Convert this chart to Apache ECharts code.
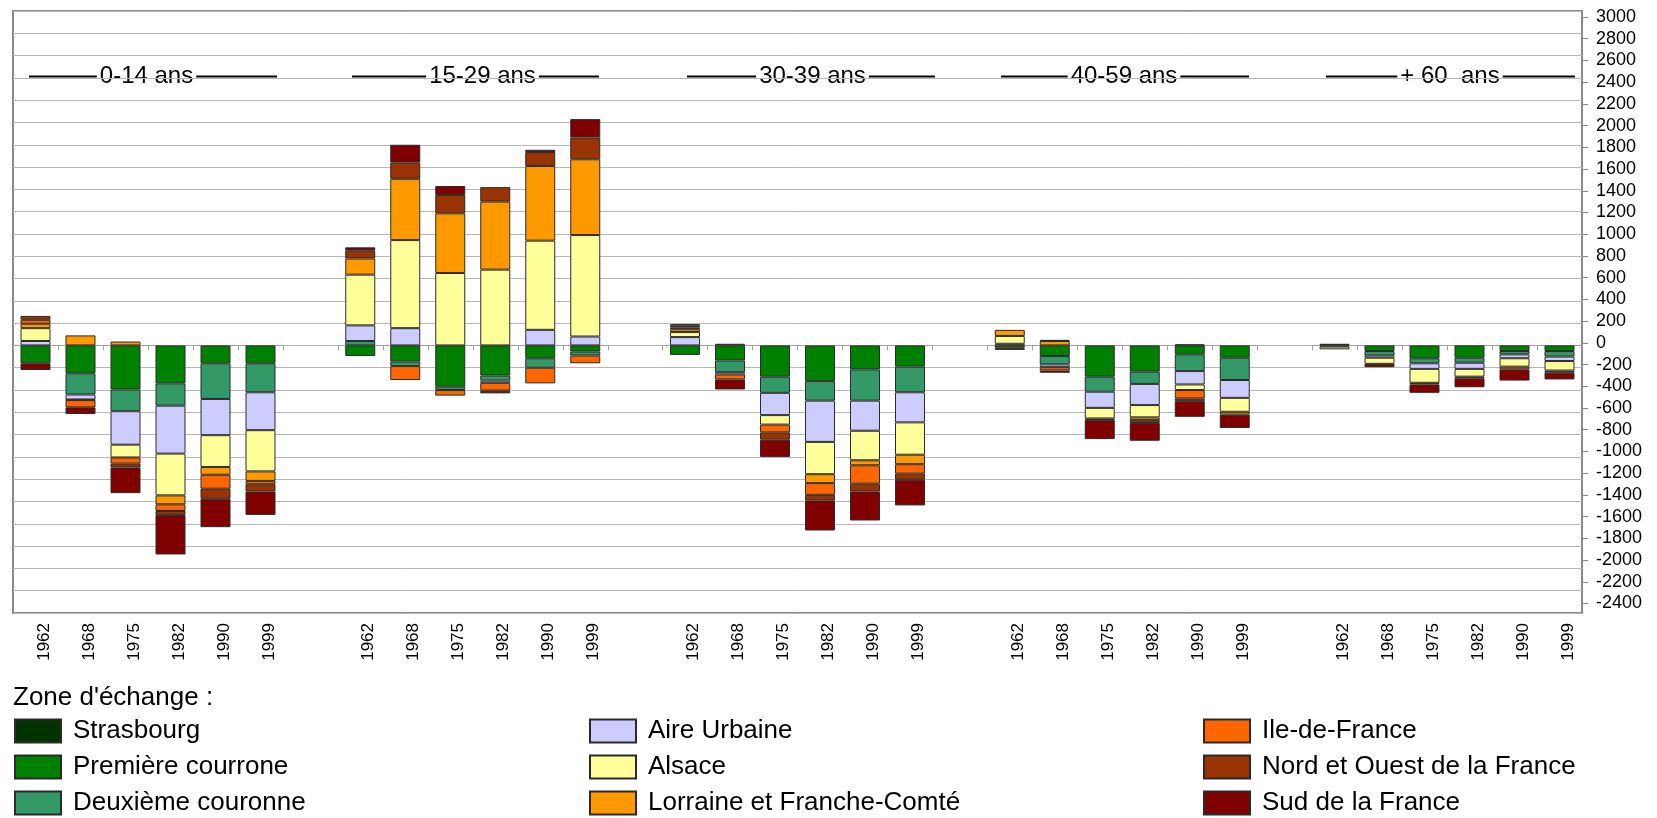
<!DOCTYPE html>
<html><head><meta charset="utf-8">
<script src="https://cdn.jsdelivr.net/npm/echarts@6/dist/echarts.min.js"></script>
<style>html,body{margin:0;padding:0;background:#fff}#c{width:1657px;height:818px}</style>
</head><body><div id="c"></div>
<script>
// ---------------- DATA ----------------
const years = ['1962', '1968', '1975', '1982', '1990', '1999'];
const ageGroups = ['0-14 ans', '15-29 ans', '30-39 ans', '40-59 ans', '+ 60  ans'];
const zoneNames = ['Strasbourg', 'Première courrone', 'Deuxième couronne', 'Aire Urbaine', 'Alsace',
  'Lorraine et Franche-Comté', 'Ile-de-France', 'Nord et Ouest de la France', 'Sud de la France'];
const zoneColors = ['#003300', '#008000', '#339966', '#CCCCFF', '#FFFF99', '#FF9900', '#FF6600', '#993300', '#800000'];
const legendTitle = "Zone d'échange :";
const yMin = -2400, yMax = 3000, yStep = 200;

// values per zone: 0-14 ans (6 years), 15-29 ans, 30-39 ans, 40-59 ans, + 60 ans
const strasbourg = [0, 0, 0, 0, 0, 0,   0, 0, 0, 0, 0, 0,   0, 0, 0, 0, 0, 0,   0, 0, 0, 0, 10, 0,   15, 0, 0, 0, 0, 0];
const premiereCouronne = [-160, -250, -395, -340, -160, -160,   -95, -145, -370, -270, -115, -55,   -85, -135, -280, -320, -215, -190,   -20, -95, -280, -235, -80, -110,   -10, -50, -115, -110, -50, -50];
const deuxiemeCouronne = [0, -190, -195, -200, -320, -260,   40, -40, -30, -45, -85, -35,   0, -105, -145, -175, -280, -230,   0, -75, -135, -110, -150, -200,   0, -40, -45, -45, -30, -50];
const aireUrbaine = [40, -45, -300, -430, -325, -340,   140, 155, 0, -20, 140, 80,   75, -20, -200, -370, -270, -270,   15, -25, -145, -190, -120, -160,   0, -20, -50, -55, -35, -40];
const alsace = [115, -5, -115, -375, -285, -370,   455, 790, 650, 680, 800, 910,   45, 0, -85, -290, -265, -290,   70, 0, -95, -110, -50, -125,   -25, -55, -125, -70, -75, -85];
const lorraineFC = [40, 90, 35, -80, -70, -85,   145, 550, 535, 610, 670, 680,   25, 0, 0, -80, -45, -85,   55, 40, 0, -25, 0, -25,   0, 0, 0, 0, 0, 0];
const ileDeFrance = [35, -65, -55, -60, -125, -30,   0, -125, -50, -70, -140, -70,   15, -45, -70, -105, -165, -85,   0, -30, 0, 0, -75, 0,   0, 0, 0, 0, -25, 0];
const nordOuest = [35, 0, -35, -35, -90, -65,   70, 145, 165, 130, 125, 195,   20, 15, -65, -50, -70, -55,   0, 10, -15, -25, -25, 0,   0, 0, -15, -15, 0, -20];
const sudFrance = [-60, -60, -230, -355, -255, -210,   30, 160, 80, -25, 20, 165,   10, -90, -155, -270, -260, -230,   -20, -20, -170, -160, -140, -120,   0, -30, -75, -80, -100, -60];
const zoneValues = [strasbourg, premiereCouronne, deuxiemeCouronne, aireUrbaine, alsace, lorraineFC, ileDeFrance, nordOuest, sudFrance];

// ---------------- LAYOUT ----------------
const FONT = 'Liberation Sans, Arial, Helvetica, sans-serif';
const PLOT = { left: 13, top: 11, width: 1569, height: 602 };
const LABEL_BAND = { top: 17, bottom: 603.5 };   // value labels of the right axis
const GROUP_STEP = 324.75, GROUP_W = 270;
const titleLayout = [
  { cx: 146.5, l: 29, r: 277 },
  { cx: 482.5, l: 352, r: 599 },
  { cx: 812.5, l: 687, r: 935 },
  { cx: 1124, l: 1001, r: 1249 },
  { cx: 1450, l: 1326, r: 1575 }
];
const TITLE_Y = 76.5, TITLE_FS = 24;
const legendCols = [14, 589, 1203];
const legendRows = [718, 754, 790];

const measureCtx = document.createElement('canvas').getContext('2d');
measureCtx.font = TITLE_FS + 'px ' + FONT;

const grids = [
  { left: PLOT.left, top: PLOT.top, width: PLOT.width, height: PLOT.height,
    show: true, borderColor: '#8a8a8a', borderWidth: 2, backgroundColor: '#fff' },
  { left: PLOT.left, top: LABEL_BAND.top, width: PLOT.width, height: LABEL_BAND.bottom - LABEL_BAND.top }
];
const xAxes = [
  { gridIndex: 0, type: 'value', min: 0, max: 1, show: false },
  { gridIndex: 1, type: 'value', min: 0, max: 1, show: false }
];
const yAxes = [
  { gridIndex: 0, type: 'value', position: 'right', min: yMin, max: yMax, interval: yStep,
    axisLine: { show: false, onZero: false }, axisTick: { show: false }, axisLabel: { show: false },
    splitLine: { show: true, lineStyle: { color: '#b8b8b8', width: 1 } } },
  { gridIndex: 1, type: 'value', position: 'right', min: yMin, max: yMax, interval: yStep,
    axisLine: { show: false, onZero: false },
    axisTick: { show: true, inside: false, length: 6, lineStyle: { color: '#8a8a8a' } },
    axisLabel: { margin: 14, fontSize: 18, color: '#000', fontFamily: FONT, formatter: v => String(v) },
    splitLine: { show: false } }
];
const series = [];
const G0 = 2; // first group grid index

ageGroups.forEach((ag, g) => {
  grids.push({ left: PLOT.left + g * GROUP_STEP, top: PLOT.top, width: GROUP_W, height: PLOT.height });
  xAxes.push({
    gridIndex: G0 + g, type: 'category', data: years, position: 'bottom',
    axisLine: { show: true, onZero: true, lineStyle: { color: '#a0a0a0', width: 1 } },
    axisTick: { show: true, length: 5, lineStyle: { color: '#a0a0a0' } },
    axisLabel: { show: false }, splitLine: { show: false }
  });
  xAxes.push({
    gridIndex: G0 + g, type: 'category', data: years, position: 'bottom',
    axisLine: { show: false, onZero: false }, axisTick: { show: false },
    axisLabel: { show: true, rotate: 90, margin: 10, fontSize: 17, lineHeight: 17, color: '#000',
      fontFamily: FONT, verticalAlign: 'top', interval: 0 },
    splitLine: { show: false }
  });
  yAxes.push({ gridIndex: G0 + g, type: 'value', min: yMin, max: yMax, interval: yStep, show: false,
    axisLine: { onZero: false }, splitLine: { show: false } });
  zoneNames.forEach((zn, z) => {
    series.push({
      type: 'bar', name: zn, xAxisIndex: 2 + 2 * g, yAxisIndex: 2 + g, stack: 'g' + g,
      barWidth: 30,
      data: zoneValues[z].slice(g * years.length, (g + 1) * years.length).map(v => (v === 0 ? null : v)),
      itemStyle: { color: zoneColors[z], borderColor: '#2a2a2a', borderWidth: 1 },
      emphasis: { disabled: true }
    });
  });
});

const graphics = [];
ageGroups.forEach((ag, g) => {
  const t = titleLayout[g];
  const half = measureCtx.measureText(ag).width / 2;
  graphics.push({ type: 'text', x: t.cx, y: TITLE_Y, style: { text: ag, fontSize: TITLE_FS, fontFamily: FONT,
    fill: '#000', align: 'center', verticalAlign: 'middle' } });
  graphics.push({ type: 'line', shape: { x1: t.l, y1: TITLE_Y, x2: t.cx - half - 3, y2: TITLE_Y }, style: { stroke: '#000', lineWidth: 2 } });
  graphics.push({ type: 'line', shape: { x1: t.cx + half + 3, y1: TITLE_Y, x2: t.r, y2: TITLE_Y }, style: { stroke: '#000', lineWidth: 2 } });
});
graphics.push({ type: 'text', x: 13, y: 698, style: { text: legendTitle, fontSize: 26, fontFamily: FONT,
  fill: '#000', align: 'left', verticalAlign: 'middle' } });

const legends = zoneNames.map((zn, i) => ({
  data: [zn], orient: 'vertical', left: legendCols[Math.floor(i / 3)], top: legendRows[i % 3],
  padding: 0, itemWidth: 46, itemHeight: 23, icon: 'rect', selectedMode: false,
  textStyle: { fontSize: 26, lineHeight: 26, color: '#000', fontFamily: FONT, padding: [0, 0, 0, 7] }
}));

const chart = echarts.init(document.getElementById('c'), null, { renderer: 'canvas' });
chart.setOption({
  backgroundColor: '#fff', animation: false,
  grid: grids, xAxis: xAxes, yAxis: yAxes, series: series,
  legend: legends, graphic: graphics, tooltip: { show: false }
});
</script></body></html>
